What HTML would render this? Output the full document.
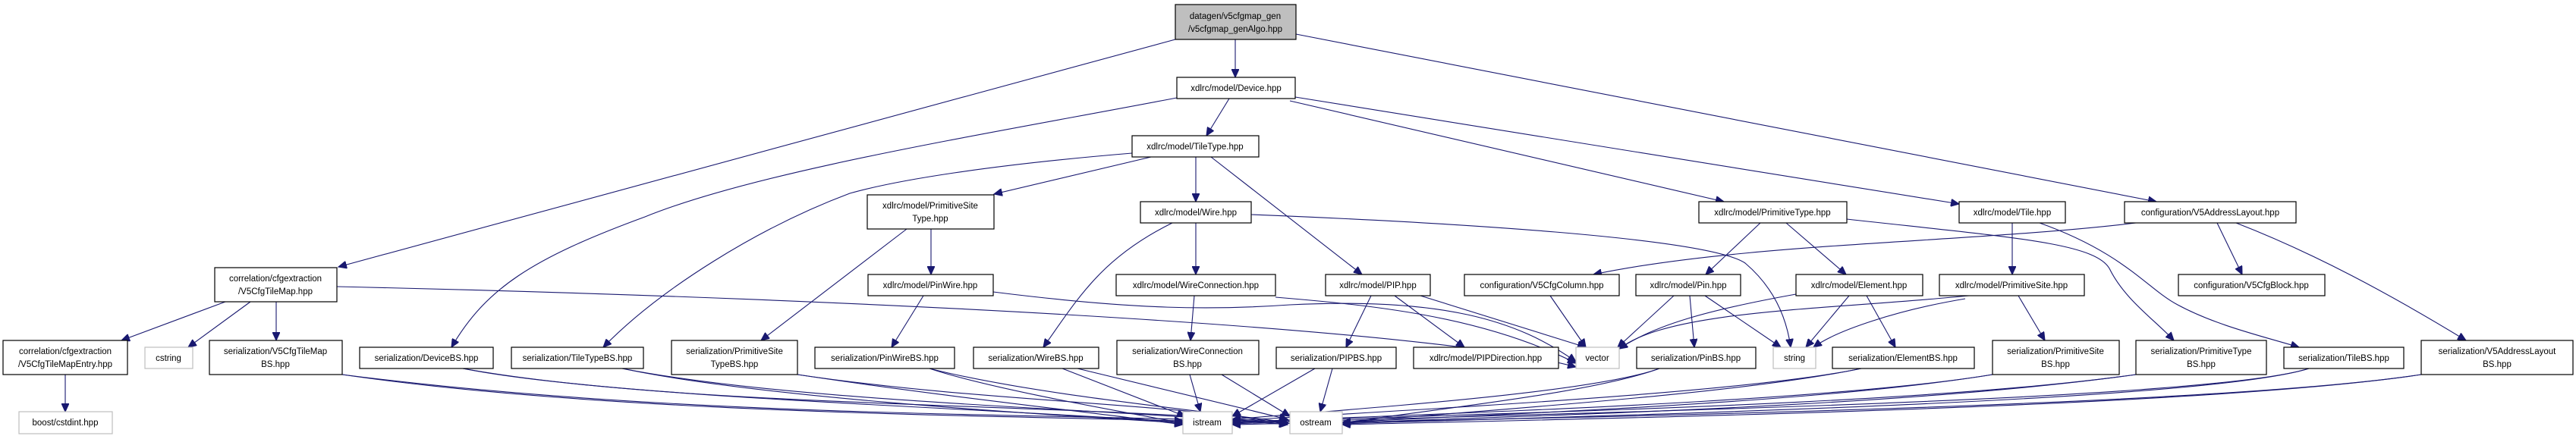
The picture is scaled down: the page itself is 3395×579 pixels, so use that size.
<!DOCTYPE html>
<html><head><meta charset="utf-8"><style>
html,body{margin:0;padding:0;background:#fff;}
svg{display:block;}
text{font-family:"Liberation Sans",sans-serif;font-size:11.5px;fill:#000;text-anchor:middle;}
.n{fill:#fff;stroke:#000;stroke-width:1.2;}
.g{fill:#fff;stroke:#bfbfbf;stroke-width:1.2;}
.r{fill:#bfbfbf;stroke:#000;stroke-width:1.2;}
path{fill:none;stroke:#191970;stroke-width:1.1;}
</style></head><body>
<svg width="3395" height="579" viewBox="0 0 3395 579" xmlns="http://www.w3.org/2000/svg">
<defs><marker id="a" markerUnits="userSpaceOnUse" markerWidth="12" markerHeight="10" refX="11" refY="5" orient="auto"><path d="M0,0 L11,5 L0,10 z" style="fill:#191970;stroke:#191970"/></marker></defs>
<g marker-end="url(#a)">
<path d="M1628,52 L1628,102"/>
<path d="M1549,52 L446,352"/>
<path d="M1708,45 L2842,266"/>
<path d="M1620,130 L1590,179"/>
<path d="M1551,129 C1300,177 1000,225 850,286 C700,341 640,381 595,458"/>
<path d="M1700,133 L2272,266"/>
<path d="M1707,128 L2582,269"/>
<path d="M1517,207 L1310,256"/>
<path d="M1576,207 L1576,266"/>
<path d="M1596,207 L1795,362"/>
<path d="M1492,202 C1300,218 1180,238 1120,255 C1000,300 870,381 795,458"/>
<path d="M1649,283 C1900,293 2250,313 2300,347 C2340,381 2355,422 2360,458"/>
<path d="M1576,294 L1576,362"/>
<path d="M1545,294 C1450,341 1420,395 1375,458"/>
<path d="M1227,302 L1227,362"/>
<path d="M1195,302 L1003,449"/>
<path d="M1217,390 L1175,458"/>
<path d="M1309,385 C1500,409 1600,409 1700,402 C1900,392 2000,422 2077,477"/>
<path d="M1681,392 C1800,402 1950,415 2077,479"/>
<path d="M444,378 C1200,395 1900,436 2077,484"/>
<path d="M297,398 L160,449"/>
<path d="M330,398 L248,458"/>
<path d="M364,398 L364,449"/>
<path d="M86,494 L86,543"/>
<path d="M1574,390 L1569,449"/>
<path d="M1807,390 L1774,458"/>
<path d="M1838,390 L1930,458"/>
<path d="M1872,390 L2090,458"/>
<path d="M2043,390 L2090,458"/>
<path d="M2320,294 L2248,362"/>
<path d="M2354,294 L2433,362"/>
<path d="M2434,289 C2650,313 2760,320 2780,354 C2800,395 2840,422 2865,449"/>
<path d="M2206,390 L2132,458"/>
<path d="M2227,390 L2233,458"/>
<path d="M2247,390 L2347,458"/>
<path d="M2367,388 C2250,409 2180,429 2134,460"/>
<path d="M2437,390 L2380,458"/>
<path d="M2460,390 L2498,458"/>
<path d="M2652,294 L2652,362"/>
<path d="M2688,294 C2800,334 2830,381 2870,402 C2920,429 2980,443 3030,458"/>
<path d="M2815,294 C2600,320 2300,320 2100,362"/>
<path d="M2922,294 L2955,362"/>
<path d="M2947,294 C3050,334 3150,388 3250,449"/>
<path d="M2595,390 C2400,409 2200,409 2134,460"/>
<path d="M2590,394 C2500,409 2420,436 2390,458"/>
<path d="M2660,390 L2695,449"/>
<path d="M451,494 C800,545 1300,548 1559,555"/>
<path d="M451,494 C900,552 1400,545 1697,557"/>
<path d="M610,486 C800,524 1300,538 1559,557"/>
<path d="M610,486 C900,538 1400,531 1697,558"/>
<path d="M820,486 C1000,524 1350,545 1559,558"/>
<path d="M820,486 C1050,531 1450,538 1697,560"/>
<path d="M1051,494 C1250,524 1450,545 1559,560"/>
<path d="M1051,494 C1300,531 1550,531 1697,560"/>
<path d="M1225,486 C1300,511 1450,538 1559,558"/>
<path d="M1225,486 C1350,518 1550,538 1697,557"/>
<path d="M1400,486 L1562,549"/>
<path d="M1420,486 L1697,553"/>
<path d="M1568,494 L1582,543"/>
<path d="M1610,494 L1700,549"/>
<path d="M1733,486 L1624,549"/>
<path d="M1756,486 L1740,543"/>
<path d="M2187,486 C2100,518 1800,538 1624,553"/>
<path d="M2187,486 C2100,518 1900,538 1769,558"/>
<path d="M2453,486 C2300,518 1900,538 1624,555"/>
<path d="M2453,486 C2300,518 2000,538 1769,557"/>
<path d="M2626,494 C2400,531 1900,545 1624,557"/>
<path d="M2626,494 C2400,531 2000,545 1769,557"/>
<path d="M2815,494 C2500,538 1900,545 1624,558"/>
<path d="M2815,494 C2500,538 2000,548 1769,558"/>
<path d="M3043,486 C2900,531 2000,545 1624,559"/>
<path d="M3043,486 C2900,531 2100,548 1769,559"/>
<path d="M3191,494 C2900,538 2000,552 1624,560"/>
<path d="M3191,494 C2900,538 2100,552 1769,560"/>
</g>
<rect class="r" x="1549" y="6" width="159" height="46"/><text x="1628" y="25">datagen/v5cfgmap_gen</text><text x="1628" y="42">/v5cfgmap_genAlgo.hpp</text>
<rect class="n" x="1551" y="102" width="156" height="28"/><text x="1629" y="120">xdlrc/model/Device.hpp</text>
<rect class="n" x="1492" y="179" width="167" height="28"/><text x="1575" y="197">xdlrc/model/TileType.hpp</text>
<rect class="n" x="1143" y="257" width="167" height="45"/><text x="1226" y="275">xdlrc/model/PrimitiveSite</text><text x="1226" y="292">Type.hpp</text>
<rect class="n" x="1503" y="266" width="146" height="28"/><text x="1576" y="284">xdlrc/model/Wire.hpp</text>
<rect class="n" x="2239" y="266" width="195" height="28"/><text x="2336" y="284">xdlrc/model/PrimitiveType.hpp</text>
<rect class="n" x="2582" y="266" width="140" height="28"/><text x="2652" y="284">xdlrc/model/Tile.hpp</text>
<rect class="n" x="2800" y="266" width="226" height="28"/><text x="2913" y="284">configuration/V5AddressLayout.hpp</text>
<rect class="n" x="283" y="353" width="161" height="45"/><text x="363" y="371">correlation/cfgextraction</text><text x="363" y="388">/V5CfgTileMap.hpp</text>
<rect class="n" x="1144" y="362" width="165" height="28"/><text x="1226" y="380">xdlrc/model/PinWire.hpp</text>
<rect class="n" x="1471" y="362" width="210" height="28"/><text x="1576" y="380">xdlrc/model/WireConnection.hpp</text>
<rect class="n" x="1747" y="362" width="138" height="28"/><text x="1816" y="380">xdlrc/model/PIP.hpp</text>
<rect class="n" x="1930" y="362" width="204" height="28"/><text x="2032" y="380">configuration/V5CfgColumn.hpp</text>
<rect class="n" x="2156" y="362" width="138" height="28"/><text x="2225" y="380">xdlrc/model/Pin.hpp</text>
<rect class="n" x="2367" y="362" width="167" height="28"/><text x="2450" y="380">xdlrc/model/Element.hpp</text>
<rect class="n" x="2556" y="362" width="191" height="28"/><text x="2651" y="380">xdlrc/model/PrimitiveSite.hpp</text>
<rect class="n" x="2871" y="362" width="193" height="28"/><text x="2967" y="380">configuration/V5CfgBlock.hpp</text>
<rect class="n" x="4" y="449" width="164" height="45"/><text x="86" y="467">correlation/cfgextraction</text><text x="86" y="484">/V5CfgTileMapEntry.hpp</text>
<rect class="g" x="191" y="458" width="63" height="28"/><text x="222" y="476">cstring</text>
<rect class="n" x="276" y="449" width="175" height="45"/><text x="363" y="467">serialization/V5CfgTileMap</text><text x="363" y="484">BS.hpp</text>
<rect class="n" x="474" y="458" width="176" height="28"/><text x="562" y="476">serialization/DeviceBS.hpp</text>
<rect class="n" x="674" y="458" width="174" height="28"/><text x="761" y="476">serialization/TileTypeBS.hpp</text>
<rect class="n" x="885" y="449" width="166" height="45"/><text x="968" y="467">serialization/PrimitiveSite</text><text x="968" y="484">TypeBS.hpp</text>
<rect class="n" x="1074" y="458" width="184" height="28"/><text x="1166" y="476">serialization/PinWireBS.hpp</text>
<rect class="n" x="1283" y="458" width="165" height="28"/><text x="1365" y="476">serialization/WireBS.hpp</text>
<rect class="n" x="1472" y="449" width="187" height="45"/><text x="1565" y="467">serialization/WireConnection</text><text x="1565" y="484">BS.hpp</text>
<rect class="n" x="1682" y="458" width="158" height="28"/><text x="1761" y="476">serialization/PIPBS.hpp</text>
<rect class="n" x="1863" y="458" width="191" height="28"/><text x="1958" y="476">xdlrc/model/PIPDirection.hpp</text>
<rect class="g" x="2077" y="458" width="57" height="28"/><text x="2105" y="476">vector</text>
<rect class="n" x="2157" y="458" width="157" height="28"/><text x="2235" y="476">serialization/PinBS.hpp</text>
<rect class="g" x="2337" y="458" width="56" height="28"/><text x="2365" y="476">string</text>
<rect class="n" x="2415" y="458" width="187" height="28"/><text x="2508" y="476">serialization/ElementBS.hpp</text>
<rect class="n" x="2626" y="449" width="167" height="45"/><text x="2709" y="467">serialization/PrimitiveSite</text><text x="2709" y="484">BS.hpp</text>
<rect class="n" x="2815" y="449" width="172" height="45"/><text x="2901" y="467">serialization/PrimitiveType</text><text x="2901" y="484">BS.hpp</text>
<rect class="n" x="3010" y="458" width="158" height="28"/><text x="3089" y="476">serialization/TileBS.hpp</text>
<rect class="n" x="3191" y="449" width="200" height="45"/><text x="3291" y="467">serialization/V5AddressLayout</text><text x="3291" y="484">BS.hpp</text>
<rect class="g" x="25" y="543" width="123" height="29"/><text x="86" y="561">boost/cstdint.hpp</text>
<rect class="g" x="1559" y="543" width="65" height="29"/><text x="1591" y="561">istream</text>
<rect class="g" x="1700" y="543" width="69" height="29"/><text x="1734" y="561">ostream</text>
</svg>
</body></html>
